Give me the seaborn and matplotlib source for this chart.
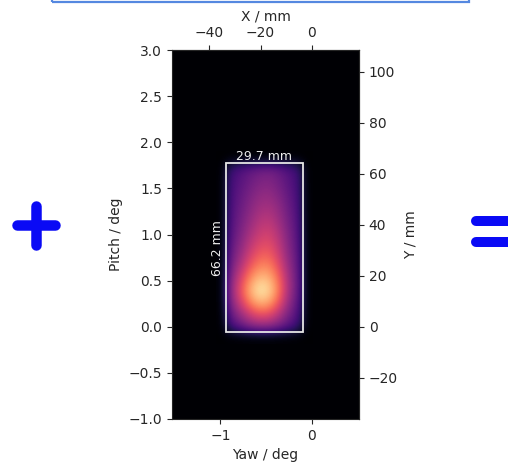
import numpy as np
import matplotlib
matplotlib.use("Agg")
import matplotlib.pyplot as plt
import seaborn as sns
from matplotlib.patches import Rectangle
from matplotlib.lines import Line2D

# ---- data ----
yaw_lim = [-1.53, 0.515]
pitch_lim = [-1.0, 3.0]
yaw_ticks = [-1, 0]
pitch_ticks = [-1.0, -0.5, 0.0, 0.5, 1.0, 1.5, 2.0, 2.5, 3.0]
x_mm_ticks = [-40, -20, 0]
y_mm_ticks = [-20, 0, 20, 40, 60, 80, 100]
mm_per_deg_x = 35.6
mm_per_deg_y = 36.2

# box of the illuminated field (deg)
box_left, box_right = -0.94, -0.10
box_bottom, box_top = -0.06, 1.77
box_width_label = "29.7 mm"
box_height_label = "66.2 mm"

# normalised intensity inside the box, rows top (pitch 1.7) -> bottom (pitch 0.0),
# columns left (yaw -0.89) -> right (yaw -0.15)
intensity = [
    [0.20, 0.25, 0.29, 0.32, 0.33, 0.30, 0.25, 0.20],
    [0.22, 0.27, 0.32, 0.36, 0.37, 0.33, 0.27, 0.21],
    [0.23, 0.29, 0.35, 0.40, 0.41, 0.36, 0.29, 0.22],
    [0.24, 0.31, 0.38, 0.44, 0.45, 0.40, 0.31, 0.23],
    [0.25, 0.33, 0.41, 0.48, 0.50, 0.43, 0.33, 0.24],
    [0.26, 0.35, 0.45, 0.53, 0.55, 0.47, 0.35, 0.25],
    [0.28, 0.38, 0.50, 0.58, 0.60, 0.51, 0.37, 0.26],
    [0.30, 0.42, 0.56, 0.65, 0.66, 0.55, 0.39, 0.27],
    [0.33, 0.48, 0.64, 0.74, 0.74, 0.61, 0.42, 0.28],
    [0.37, 0.56, 0.75, 0.86, 0.84, 0.68, 0.45, 0.29],
    [0.40, 0.62, 0.84, 0.97, 0.92, 0.72, 0.46, 0.29],
    [0.37, 0.56, 0.75, 0.86, 0.82, 0.65, 0.42, 0.27],
    [0.30, 0.43, 0.56, 0.64, 0.62, 0.50, 0.35, 0.24],
    [0.22, 0.30, 0.38, 0.42, 0.41, 0.35, 0.27, 0.19],
]

# ---- style ----
sns.set_style("ticks")
plt.rcParams["font.family"] = ["DejaVu Sans"]
plt.rcParams["font.size"] = 10

W, H = 508, 466
fig = plt.figure(figsize=(W / 100, H / 100), dpi=100)
ax = fig.add_axes([172 / W, 1 - 419 / H, (359 - 172) / W, (419 - 50) / H])
ax.set_facecolor("#000004")

img = np.pad(np.array(intensity), 1, mode="constant", constant_values=0.0)
ncol = len(intensity[0])
nrow = len(intensity)
dx = (box_right - box_left) / ncol
dy = (box_top - box_bottom) / nrow
ax.imshow(img, cmap="magma", vmin=0, vmax=1, interpolation="bicubic",
          extent=[box_left - dx, box_right + dx, box_bottom - dy, box_top + dy],
          origin="upper", aspect="auto", zorder=1)

ax.add_patch(Rectangle((box_left, box_bottom), box_right - box_left, box_top - box_bottom,
                       fill=False, edgecolor="#e6e6e6", lw=1.3, zorder=3))
ax.text((box_left + box_right) / 2, box_top + 0.01, box_width_label, color="#eeeeee",
        ha="center", va="bottom", fontsize=9, zorder=4)
ax.text(box_left - 0.02, (box_top + box_bottom) / 2, box_height_label, color="#eeeeee",
        ha="right", va="center", rotation=90, fontsize=9, zorder=4)

ax.set_xlim(*yaw_lim)
ax.set_ylim(*pitch_lim)
ax.set_xticks(yaw_ticks)
ax.set_yticks(pitch_ticks)
ax.set_xlabel("Yaw / deg")
ax.set_ylabel("Pitch / deg")

secx = ax.secondary_xaxis("top", functions=(lambda d: d * mm_per_deg_x,
                                              lambda m: m / mm_per_deg_x))
secx.set_xticks(x_mm_ticks)
secx.set_xlabel("X / mm")
secy = ax.secondary_yaxis("right", functions=(lambda d: d * mm_per_deg_y,
                                               lambda m: m / mm_per_deg_y))
secy.set_yticks(y_mm_ticks)
secy.set_ylabel("Y / mm")

# ---- slide decorations ----
blue = "#0a0af5"
def fline(xs, ys, lw_px, color=blue):
    fig.add_artist(Line2D([x / W for x in xs], [1 - y / H for y in ys],
                          transform=fig.transFigure, color=color,
                          lw=lw_px * 0.72, solid_capstyle="round"))

# plus sign
fline([17, 55], [225.5, 225.5], 10.5)
fline([36, 36], [206, 245], 10.5)
# equals sign
fline([476, 515], [221, 221], 10)
fline([476, 515], [242, 242], 10)
# top box edge
fig.add_artist(Rectangle((52 / W, 1 - 1.5 / H), (468.5 - 52) / W, 20 / H,
                         transform=fig.transFigure, fill=False,
                         edgecolor="#5588e0", lw=1.6))

fig.savefig("out.png", dpi=100)
